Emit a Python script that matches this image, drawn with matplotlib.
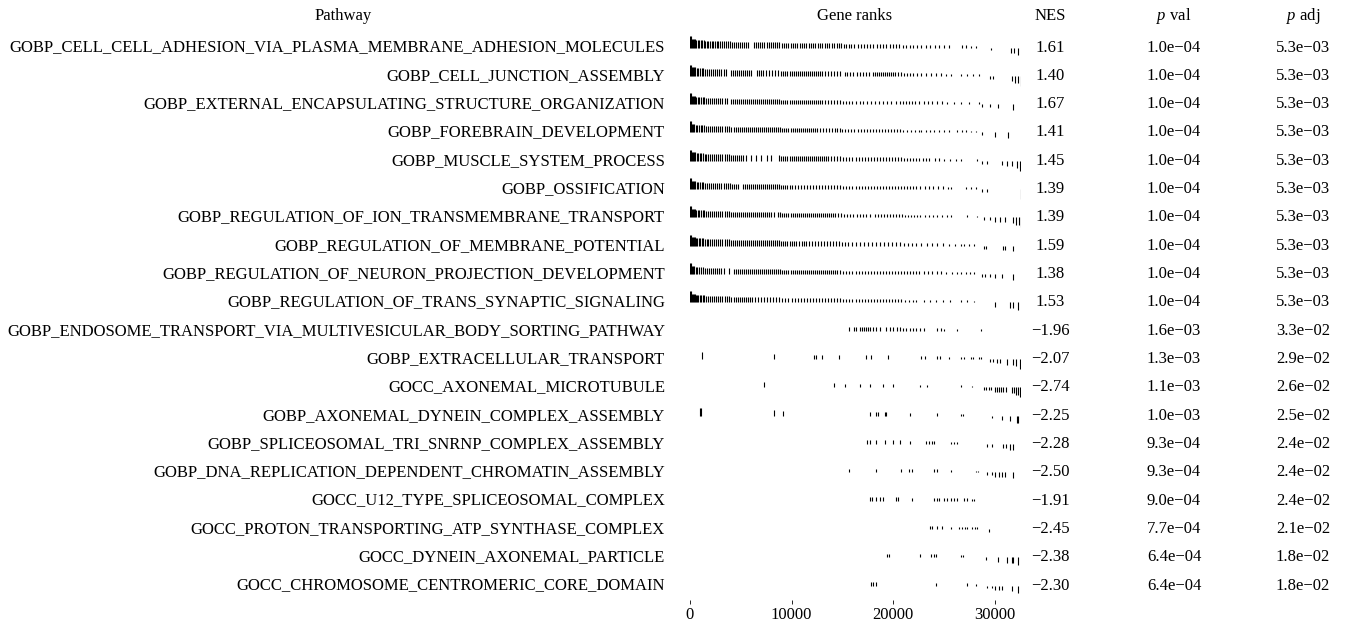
import matplotlib
matplotlib.use("Agg")
import matplotlib.pyplot as plt
import numpy as np

plt.rcParams['font.family'] = ['Liberation Serif', 'DejaVu Serif']
plt.rcParams['mathtext.fontset'] = 'custom'
plt.rcParams['mathtext.rm'] = 'Liberation Serif'
plt.rcParams['mathtext.it'] = 'Liberation Serif:italic'

# ---------------- data ----------------
pathways = [
    "GOBP_CELL_CELL_ADHESION_VIA_PLASMA_MEMBRANE_ADHESION_MOLECULES",
    "GOBP_CELL_JUNCTION_ASSEMBLY",
    "GOBP_EXTERNAL_ENCAPSULATING_STRUCTURE_ORGANIZATION",
    "GOBP_FOREBRAIN_DEVELOPMENT",
    "GOBP_MUSCLE_SYSTEM_PROCESS",
    "GOBP_OSSIFICATION",
    "GOBP_REGULATION_OF_ION_TRANSMEMBRANE_TRANSPORT",
    "GOBP_REGULATION_OF_MEMBRANE_POTENTIAL",
    "GOBP_REGULATION_OF_NEURON_PROJECTION_DEVELOPMENT",
    "GOBP_REGULATION_OF_TRANS_SYNAPTIC_SIGNALING",
    "GOBP_ENDOSOME_TRANSPORT_VIA_MULTIVESICULAR_BODY_SORTING_PATHWAY",
    "GOBP_EXTRACELLULAR_TRANSPORT",
    "GOCC_AXONEMAL_MICROTUBULE",
    "GOBP_AXONEMAL_DYNEIN_COMPLEX_ASSEMBLY",
    "GOBP_SPLICEOSOMAL_TRI_SNRNP_COMPLEX_ASSEMBLY",
    "GOBP_DNA_REPLICATION_DEPENDENT_CHROMATIN_ASSEMBLY",
    "GOCC_U12_TYPE_SPLICEOSOMAL_COMPLEX",
    "GOCC_PROTON_TRANSPORTING_ATP_SYNTHASE_COMPLEX",
    "GOCC_DYNEIN_AXONEMAL_PARTICLE",
    "GOCC_CHROMOSOME_CENTROMERIC_CORE_DOMAIN",
]
nes = [1.61, 1.40, 1.67, 1.41, 1.45, 1.39, 1.39, 1.59, 1.38, 1.53,
       -1.96, -2.07, -2.74, -2.25, -2.28, -2.50, -1.91, -2.45, -2.38, -2.30]
pval = [1.0e-4, 1.0e-4, 1.0e-4, 1.0e-4, 1.0e-4, 1.0e-4, 1.0e-4, 1.0e-4, 1.0e-4, 1.0e-4,
        1.6e-3, 1.3e-3, 1.1e-3, 1.0e-3, 9.3e-4, 9.3e-4, 9.0e-4, 7.7e-4, 6.4e-4, 6.4e-4]
padj = [5.3e-3, 5.3e-3, 5.3e-3, 5.3e-3, 5.3e-3, 5.3e-3, 5.3e-3, 5.3e-3, 5.3e-3, 5.3e-3,
        3.3e-2, 2.9e-2, 2.6e-2, 2.5e-2, 2.4e-2, 2.4e-2, 2.4e-2, 2.1e-2, 1.8e-2, 1.8e-2]

n_genes = 32600
x_ticks = [0, 10000, 20000, 30000]

# gene ranked statistic (normalised), step values starting at these ranks (hundreds)
stat_breaks = [0, 2, 6, 15, 40, 90, 150, 210, 250, 275, 288, 300, 312, 320, 325]
stat_values = [0.78, 0.6, 0.52, 0.45, 0.38, 0.31, 0.25, 0.2, 0.15, 0.12,
               -0.2, -0.3, -0.4, -0.52, -0.7]

# positions of pathway genes in the ranked list (units of 100 ranks)
ranks_1 = [0,1,2,3,4,5,6,8,9,11,12,14,15,17,18,20,22,23,25,27,28,30,32,33,35,37,39,41,43,45,47,49,51,53,55,57,
           63,65,67,69,71,73,76,78,80,82,84,86,88,91,93,95,97,99,101,103,105,108,110,112,114,117,119,121,123,126,128,130,133,135,137,140,142,145,147,149,152,154,157,159,
           162,165,168,171,174,177,180,184,187,190,193,197,200,203,206,210,213,217,220,224,228,232,236,241,245,250,255,
           268,272,277,282,296,316,319,323,327]
ranks_2 = [0,1,2,3,4,5,7,8,10,12,13,15,17,19,21,23,25,27,29,31,33,35,
           40,42,44,46,48,50,52,54,56,58,60,
           66,68,70,72,75,78,81,84,87,
           90,92,94,96,98,100,102,104,106,108,110,112,114,116,118,120,122,124,126,128,130,133,136,139,142,145,148,
           153,155,158,161,164,167,170,173,176,
           180,182,184,186,188,190,192,194,196,198,200,202,205,208,211,214,217,220,224,228,232,237,
           242,247,252,257,267,273,279,285,295,298,317,320,323,326,328]
ranks_3 = [0,1,2,3,4,5,6,8,9,11,13,14,16,18,20,22,24,26,28,30,32,34,36,
           40,42,44,46,48,50,52,54,56,58,60,62,64,66,68,70,72,74,76,78,80,82,84,86,88,90,92,94,96,98,100,102,104,106,108,110,112,114,116,118,120,122,124,126,128,130,133,136,139,142,145,148,151,154,157,160,163,
           167,170,174,178,182,186,190,194,198,203,
           207,210,213,216,219,222,226,230,234,238,243,248,253,
           260,267,275,285,288,295,303,318,327]
ranks_4 = [0,1,2,3,4,6,7,9,11,12,14,16,18,20,22,24,26,28,30,32,34,36,38,40,43,
           45,47,49,51,53,55,57,59,61,63,65,67,69,71,73,75,77,79,81,83,85,87,89,91,93,95,97,99,101,103,105,107,109,111,113,115,117,119,121,123,125,128,131,134,137,140,143,145,
           148,150,153,156,159,162,165,168,171,174,177,180,183,186,189,192,195,198,201,204,207,210,214,218,222,226,228,
           232,236,240,245,250,255,263,268,272,277,282,288,300,313,328]
ranks_5 = [0,1,2,3,4,5,7,8,10,11,13,15,16,18,20,22,24,26,28,30,32,34,36,38,40,42,44,46,48,50,52,55,
           60,65,70,76,80,
           88,90,92,94,96,98,100,102,104,106,108,110,112,114,116,118,120,122,124,126,128,130,132,134,136,139,142,145,148,151,154,157,160,163,166,169,172,175,178,181,184,187,190,193,196,199,202,205,208,211,214,217,220,223,226,229,232,235,
           241,245,250,256,262,267,283,288,293,307,312,317,322,325]
ranks_6 = [0,1,2,3,4,5,7,8,10,12,13,15,17,19,21,23,25,27,29,31,33,35,37,39,41,43,45,47,
           52,54,56,58,60,62,64,66,68,70,72,74,76,78,80,82,84,86,88,90,92,94,96,98,100,103,106,109,112,115,118,121,124,127,130,133,136,139,142,145,148,151,154,157,160,163,166,169,172,175,178,181,184,187,190,193,196,199,202,205,208,211,214,217,220,223,227,231,235,239,244,249,254,257,
           272,277,282,288,293,326,328]
ranks_7 = [0,1,2,3,4,5,6,8,9,11,13,14,16,18,20,22,24,26,28,30,32,34,36,38,40,42,44,46,48,50,52,54,56,58,60,62,64,66,68,70,72,74,76,78,80,83,
           87,89,91,93,95,97,99,101,103,105,107,109,111,113,115,117,119,121,123,125,127,129,131,133,135,137,139,141,143,146,149,152,155,158,161,164,167,170,173,177,
           182,185,188,191,194,197,200,203,206,209,212,215,218,221,224,227,231,235,239,243,248,253,257,
           273,283,290,295,300,305,310,318,321,324,326,328]
ranks_8 = [0,1,2,3,4,5,6,7,9,10,12,13,15,17,18,20,22,24,26,28,30,32,34,36,38,40,42,44,46,48,50,52,54,56,58,60,62,64,66,68,70,72,74,76,78,80,82,84,86,88,90,92,94,96,98,100,102,104,107,
           110,112,114,117,120,123,126,129,132,135,138,141,144,147,150,153,156,160,
           163,167,171,175,179,183,187,191,195,199,203,207,211,215,219,223,228,233,238,243,249,255,261,267,
           270,275,280,290,292,308,310,318,328]
ranks_9 = [0,1,2,3,4,6,7,9,11,13,15,17,19,21,23,25,27,29,31,33,
           38,
           43,45,47,49,51,53,55,57,59,61,63,65,67,69,71,73,75,77,79,81,83,85,87,89,91,93,95,97,99,101,103,105,107,109,111,113,115,117,119,121,123,125,127,129,131,133,135,137,139,141,143,145,148,151,154,157,160,163,166,169,172,175,178,181,184,187,190,193,196,199,202,205,208,211,214,217,220,223,226,230,234,238,243,
           247,252,258,263,267,272,276,280,288,291,295,300,307,318]
ranks_10 = [0,1,2,3,4,5,6,7,8,10,11,13,14,16,18,20,22,24,26,28,30,32,34,36,38,40,
            43,45,47,49,51,53,55,57,59,61,64,67,70,73,76,79,82,85,88,91,94,97,100,103,106,109,112,115,118,121,124,127,130,133,136,139,142,145,148,151,154,157,160,163,166,169,172,175,178,181,184,187,190,193,196,199,202,205,208,212,216,220,223,
            230,236,242,249,256,267,273,280,300,315,318,323,327]
ranks_11 = [157,162,163,167,169,171,173,175,177,180,183,187,193,197,200,204,207,210,213,217,220,223,227,230,243,247,250,263,287]
ranks_12 = [12,83,122,124,130,147,173,178,195,228,231,243,246,255,267,270,277,279,285,287,295,298,302,305,312,318,321,325]
ranks_13 = [73,142,153,167,177,190,200,227,233,267,278,290,292,294,296,300,302,304,306,308,311,317,319,321,323,325,326,327,328]
ranks_14 = [10,11,83,92,177,183,185,192,193,217,243,267,269,297,307,315,322,323,327,328]
ranks_15 = [174,177,183,192,200,207,217,232,235,238,240,257,260,263,293,297,308,311,315,318]
ranks_16 = [157,183,208,216,219,240,243,257,282,284,293,297,300,304,307,310,318]
ranks_17 = [177,179,183,187,190,203,205,219,240,243,245,250,253,257,260,263,270,273,278,280]
ranks_18 = [236,238,243,248,257,265,268,271,273,278,281,283,294]
ranks_19 = [194,196,227,237,240,242,267,269,292,303,312,317,318,323,329]
ranks_20 = [178,180,183,242,273,282,293,297,300,304,307,317,323]

gene_ranks = [ranks_1, ranks_2, ranks_3, ranks_4, ranks_5, ranks_6, ranks_7, ranks_8, ranks_9, ranks_10,
              ranks_11, ranks_12, ranks_13, ranks_14, ranks_15, ranks_16, ranks_17, ranks_18, ranks_19, ranks_20]

# ---------------- layout ----------------
W, H = 1348, 622
fig = plt.figure(figsize=(W / 100, H / 100), dpi=100)

row0_px = 47.5
row_step = 28.32
n_rows = len(pathways)

ax_left, ax_right = 690, 1021
ax_top = row0_px - row_step / 2
ax_bot = row0_px + (n_rows - 0.5) * row_step
ax = fig.add_axes([ax_left / W, 1 - ax_bot / H, (ax_right - ax_left) / W, (ax_bot - ax_top) / H])
ax.set_xlim(0, n_genes)
ax.set_ylim(n_rows - 0.5, -0.5)

breaks = np.array(stat_breaks)
vals = np.array(stat_values)
for i, rk in enumerate(gene_ranks):
    rk = np.array(rk)
    idx = np.searchsorted(breaks, rk, side='right') - 1
    st = vals[idx]
    x = rk * 100
    ax.vlines(x, i, i - st * 0.5, colors='black', linewidth=0.8)

for s in ax.spines.values():
    s.set_visible(False)
ax.set_yticks([])
ax.set_xticks(x_ticks)
ax.set_xticklabels([str(t) for t in x_ticks])
ax.tick_params(axis='x', length=3, width=0.6, pad=2, labelsize=12)

def px(x, y):
    return x / W, 1 - y / H

fs = 12
hdr_y = 16
fig.text(*px(343, hdr_y), "Pathway", ha='center', va='center', fontsize=fs)
fig.text(*px(855, hdr_y), "Gene ranks", ha='center', va='center', fontsize=fs)
fig.text(*px(1050, hdr_y), "NES", ha='center', va='center', fontsize=fs)
fig.text(*px(1174, hdr_y), r"$\it{p}$ val", ha='center', va='center', fontsize=fs)
fig.text(*px(1303, hdr_y), r"$\it{p}$ adj", ha='center', va='center', fontsize=fs)

def fmt_e(v):
    return f"{v:.1e}".replace("-", "\u2212")

for i in range(n_rows):
    y = row0_px + i * row_step
    fig.text(*px(665, y), pathways[i], ha='right', va='center', fontsize=fs)
    fig.text(*px(1050, y), f"{nes[i]:.2f}".replace("-", "\u2212"), ha='center', va='center', fontsize=fs)
    fig.text(*px(1174, y), fmt_e(pval[i]), ha='center', va='center', fontsize=fs)
    fig.text(*px(1303, y), fmt_e(padj[i]), ha='center', va='center', fontsize=fs)

fig.savefig("out.png", dpi=100)
